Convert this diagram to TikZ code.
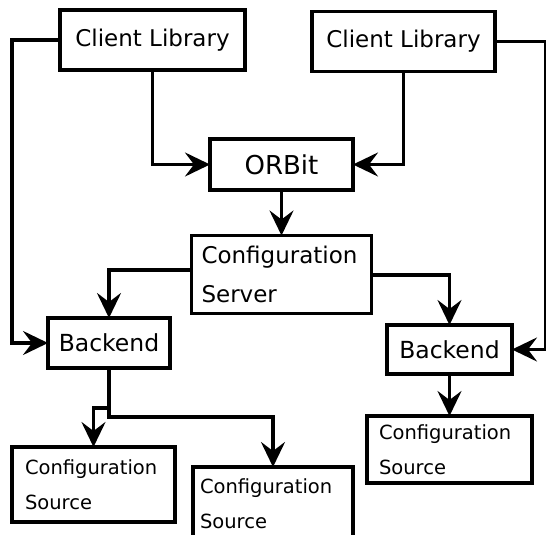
\documentclass[tikz,border=0pt]{standalone}
\usepackage{fontspec}
\setmainfont{DejaVu Sans}
\usetikzlibrary{arrows.meta,calc}
\begin{document}
\begin{tikzpicture}[x=1pt,y=-1pt,
  box/.style={draw,line width=3.6pt,inner sep=0pt,outer sep=0pt},
  big/.style={font=\fontsize{23}{39}\selectfont},
  small/.style={font=\fontsize{19.5}{35}\selectfont},
  conn/.style={line width=3.3pt,-{Stealth[length=25pt,width=24pt,inset=9pt]}}]
\useasboundingbox (0,0) rectangle (546,535);
\clip (0,0) rectangle (546,535);
\node[box,big,minimum width=185pt,minimum height=60pt] (cl1) at (152.5,40) {Client Library};
\node[box,big,minimum width=183pt,minimum height=60pt] (cl2) at (403.5,41.5) {Client Library};
\node[box,font=\fontsize{26}{30}\selectfont,minimum width=143pt,minimum height=51pt] (orbit) at (281.5,164.5) {ORBit};
\node[box,big,minimum width=180pt,minimum height=78pt,text width=160pt,align=left] (cs) at (281.5,274.5) {Configuration\\Server};
\node[box,font=\fontsize{23.5}{30}\selectfont,minimum width=122pt,minimum height=50pt] (be1) at (109,343) {Backend};
\node[box,font=\fontsize{23.5}{30}\selectfont,minimum width=125pt,minimum height=49pt] (be2) at (449.5,349.5) {Backend};
\node[box,small,minimum width=163pt,minimum height=75pt,text width=137pt,align=left] (src1) at (93.5,484.5) {Configuration\\Source};
\node[box,small,minimum width=160pt,minimum height=73pt,text width=146pt,align=left] (src2) at (273,503.5) {Configuration\\Source};
\node[box,small,minimum width=165pt,minimum height=67pt,text width=141pt,align=left] (src3) at (449.5,449.5) {Configuration\\Source};
\coordinate (lft) at (12,40);
\coordinate (rgt) at (546,41.5);
\coordinate (split) at (109,417);
\coordinate (notch) at (109,408);
\draw[conn] (cl1.west) -- (lft) |- (be1.west);
\draw[conn] (cl2.east) -- (rgt) |- (be2.east);
\draw[conn] (cl1.south) |- (orbit.west);
\draw[conn] (cl2.south) |- (orbit.east);
\draw[conn] (orbit.south) -- (cs.north);
\draw[conn] ([yshift=4.5pt]cs.west) -| (be1.north);
\draw[conn] ([yshift=-0.5pt]cs.east) -| (be2.north);
\draw[conn] (be2.south) -- (src3.north);
\draw[conn] (be1.south) -- (split) -| (src2.north);
\draw[conn] (notch) -| (src1.north);
\end{tikzpicture}
\end{document}
